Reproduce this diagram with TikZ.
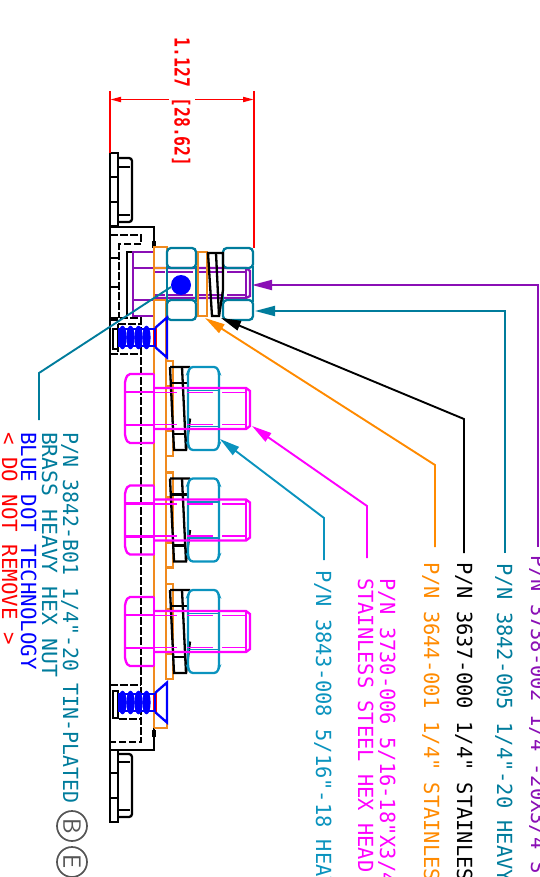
\documentclass[tikz,border=0pt]{standalone}
\usepackage{fontspec}
\newfontfamily\cad{DejaVu Sans Mono}
\usetikzlibrary{arrows.meta}
\definecolor{cred}{HTML}{FF0000}
\definecolor{cblue}{HTML}{0000FF}
\definecolor{cpurple}{HTML}{8A0FB5}
\definecolor{cmag}{HTML}{FF00FF}
\definecolor{corange}{HTML}{FF8A00}
\definecolor{cplate}{HTML}{F08A1E}
\definecolor{ctealA}{HTML}{007C9C}
\definecolor{ctealB}{HTML}{0A93BE}
\definecolor{cgrey}{HTML}{555555}
\tikzset{
  lab/.style={rotate=-90,anchor=base west,inner sep=0pt,outer sep=0pt,font=\cad\fontsize{20.8}{20.8}\selectfont},
  part/.style={line width=2.3pt,line join=miter},
  body/.style={part,black},
  hid/.style={line width=2pt,black,dash pattern=on 7.5pt off 2.5pt},
  leader/.style={line width=1.9pt},
  tipbig/.style={-{Triangle[length=20pt,width=10pt]}},
  nutseg/.style={part,rounded corners=4pt},
  dimtip/.style={{Triangle[length=11pt,width=5pt]}-},
  marker/.style={draw=cgrey,circle,line width=1.7pt,minimum size=30pt,inner sep=0pt,rotate=-90,font=\fontsize{25}{25}\selectfont\sffamily,text=cgrey},
}
\begin{document}
\begin{tikzpicture}[x=1pt,y=-1pt]
\useasboundingbox (0,0) rectangle (539,877);
\clip (0,0) rectangle (539,877);
% --- black frame
\draw[body] (110,153) rectangle (118,226);
\draw[body] (110,177) -- (118,177) (110,202) -- (118,202);
\draw[body] (118,158) -- (128,158) [rounded corners=3pt] -- (132,158) -- (132,222) -- (118,222);
\draw[body] (118,167) -- (130,167) (118,215) -- (130,215);
\draw[body] (110,226) -- (110,822) -- (118,822) -- (118,750);
\draw[body] (110,227) -- (154,227) -- (154,247);
\draw[body,line width=3.2pt] (154,241) -- (154,248);
\draw[body] (110,750) -- (154,750) -- (154,728);
\draw[body,line width=3.2pt] (154,730) -- (154,737);
\draw[body] (110,258) -- (118,258) (110,287) -- (118,287) (110,320) -- (118,320);
\draw[body] (110,773) -- (118,773) (110,798) -- (118,798);
\draw[body] (118,754) -- (128,754) [rounded corners=3pt] -- (132,754) -- (132,817) -- (118,817);
\draw[body] (118,762) -- (130,762) (118,810) -- (130,810);
\draw[body] (127,316) -- (127,252) -- (133,252);
\draw[body] (113,329) rectangle (118,349);
\draw[body] (113,691) rectangle (118,718);
% --- hidden lines
\draw[hid] (110,235) -- (141,235) -- (141,244) -- (119,244) -- (119,318);
\draw[hid] (110,318) -- (141,318) -- (141,742) -- (110,742);
\draw[hid] (118,324) -- (141,324) (118,324) -- (118,354) (110,354) -- (141,354);
\draw[hid] (110,685) -- (141,685) (118,690) -- (118,719) -- (141,719);
% --- top bolt (purple)
\draw[part,cpurple] (154,252) -- (133,252) -- (133,316) -- (154,316);
\draw[part,cpurple] (133,268) -- (154,268) (133,300) -- (154,300);
\draw[part,cpurple] (154,268) -- (246,268) -- (250,271) -- (250,296) -- (246,298) -- (154,298);
\draw[part,cpurple] (246,268) -- (246,298);
\foreach \yy in {272,295}{
  \draw[part,cpurple,line width=1.8pt] (155,\yy) -- (165,\yy) (168,\yy) -- (193,\yy) (198,\yy) -- (222,\yy) (227,\yy) -- (246,\yy);
}
% --- plate orange
\draw[part,cplate,line width=2.8pt] (154,247) -- (154,728);
\draw[part,cplate] (154,247) rectangle (167,300);
\draw[part,cplate] (154,268) -- (167,268);
\draw[part,cplate] (154,728) -- (167,728) -- (167,716);
\draw[part,cplate] (198,252) rectangle (207,316);
\draw[part,cplate,line width=1.6pt] (166,300) -- (166,361) (166,456) -- (166,473) (166,567) -- (166,583);
% --- top nuts
\foreach \xa/\xb in {167/196,223/253}{
  \draw[nutseg,ctealA] (\xa,248) rectangle (\xb,268);
  \draw[nutseg,ctealA] (\xa,300) rectangle (\xb,320);
  \draw[part,ctealA] (\xa,266) -- (\xa,302) (\xb,266) -- (\xb,302);
}
% --- top lock washer
\draw[body] (208,253) -- (223,253) -- (223,290) -- (219,316) -- (212,316) -- cycle;
\draw[body] (216,253) -- (219,316);
% --- blue dot
\fill[cblue] (181,285) circle (10);
% --- lower bolts
\foreach \c in {408.5,520,631.5}{
  % washer
  \draw[part,cplate] (166,\c-47.5) rectangle (173,\c+47.5);
  \draw[part,cplate] (166,\c-22.5) -- (173,\c-22.5) (166,\c+22.5) -- (173,\c+22.5);
  % lock washer
  \draw[body] (170,\c-41.5) -- (190,\c-41.5) (170,\c-41.5) -- (174,\c+41.5) -- (186,\c+41.5) -- (190,\c+10);
  \draw[body] (182,\c-41.5) -- (186,\c+41.5);
  \draw[body] (172,\c-25.5) -- (187,\c-25.5) (174,\c+25.5) -- (186,\c+25.5);
  % nut
  \draw[nutseg,ctealB,rounded corners=3pt] (190,\c-41.5) -- (217,\c-41.5) -- (219,\c-36) -- (219,\c+36) -- (217,\c+41.5) -- (190,\c+41.5) -- (188,\c+36) -- (188,\c-36) -- cycle;
  \draw[part,ctealB,line width=1.6pt] (189,\c-18) -- (218,\c-18) (189,\c+18) -- (218,\c+18);
  % bolt
  \draw[part,cmag,rounded corners=2pt] (154,\c-34.5) -- (128,\c-34.5) -- (125,\c-28) -- (125,\c+28) -- (128,\c+34.5) -- (154,\c+34.5);
  \draw[part,cmag] (154,\c-34.5) -- (154,\c+34.5);
  \draw[part,cmag] (125,\c-16.5) -- (154,\c-16.5) (125,\c+16.5) -- (154,\c+16.5);
  \draw[part,cmag] (154,\c-20.5) -- (246,\c-20.5) -- (250,\c-17.5) -- (250,\c+17.5) -- (246,\c+20.5) -- (154,\c+20.5);
  \draw[part,cmag] (246,\c-20.5) -- (246,\c+20.5);
  \foreach \d in {-16,16}{
    \draw[part,cmag,line width=1.8pt] (154,\c+\d) -- (177,\c+\d) (187,\c+\d) -- (213,\c+\d) (222,\c+\d) -- (246,\c+\d);
  }
}
% --- countersunk screws
\foreach \c in {337.5,702.5}{
  \draw[line width=3.5pt,cred] (155,\c-9.5) -- (155,\c+9.5);
  \draw[part,cblue] (155,\c-9.5) -- (167,\c-20) -- (167,\c+20) -- (155,\c+9.5);
  \draw[part,cblue] (119,\c-8.5) rectangle (155,\c+8.5);
  \foreach \xx in {122.5,130.5,138.5,146.5}{
    \draw[cblue,fill=cblue,line width=1pt] (\xx,\c) ellipse (3.6 and 11.3);
  }
}
% --- dimension
\coordinate (dimL) at (110,91);
\coordinate (dimLb) at (110,153);
\coordinate (dimR) at (254,91);
\coordinate (dimRb) at (254,248);
\draw[line width=2pt,cred] (dimL) -- (dimLb);
\draw[line width=2pt,cred] (dimR) -- (dimRb);
\coordinate (dimA) at (110,99.5);
\coordinate (dimB) at (169,99.5);
\coordinate (dimC) at (195,99.5);
\coordinate (dimD) at (254,99.5);
\draw[line width=1.8pt,cred,dimtip] (dimA) -- (dimB);
\draw[line width=1.8pt,cred,dimtip] (dimD) -- (dimC);
\node[lab,cred,xscale=.79,font=\cad\bfseries\fontsize{20.8}{20.8}\selectfont] (tdim) at (174.5,38) {1.127 [28.62]};
% --- labels
\node[lab,ctealA,xscale=.956] (tb1) at (63,432) {P/N 3842-B01 1/4"-20 TIN-PLATED};
\node[lab,ctealA,xscale=1.03] (tb2) at (42,432) {BRASS HEAVY HEX NUT};
\node[lab,cblue] (tb3) at (21,432) {BLUE DOT TECHNOLOGY};
\node[lab,cred] (tb4) at (2,432) {< DO NOT REMOVE >};
\node[marker] (cb) at (72,826) {B};
\node[marker] (ce) at (72,862) {E};
\node[lab,ctealB,xscale=.98] (t1) at (316,570) {P/N 3843-008 5/16"-18 HEAVY};
\node[lab,cmag,xscale=.98] (t2a) at (380,578) {P/N 3730-006 5/16-18"X3/4};
\node[lab,cmag,xscale=.98] (t2b) at (358,578) {STAINLESS STEEL HEX HEAD};
\node[lab,corange,xscale=.98] (t3) at (424,562) {P/N 3644-001 1/4" STAINLESS};
\node[lab,black,xscale=.98] (t4) at (457,562) {P/N 3637-000 1/4" STAINLESS};
\node[lab,ctealA,xscale=.98] (t5) at (497,563) {P/N 3842-005 1/4"-20 HEAVY};
\node[lab,cpurple,xscale=.98] (t6) at (531,555) {P/N 3738-002 1/4"-20X3/4  S};
% --- leaders
\coordinate (p1) at (538,547);
\coordinate (p1b) at (538,285);
\coordinate (p1t) at (252,285);
\draw[leader,cpurple,tipbig] (p1) -- (p1b) -- (p1t);
\coordinate (p2) at (505,553);
\coordinate (p2b) at (505,311);
\coordinate (p2t) at (255,311);
\draw[leader,ctealA,tipbig] (p2) -- (p2b) -- (p2t);
\coordinate (p3) at (464,553);
\coordinate (p3b) at (464,419);
\coordinate (p3t) at (221,318);
\draw[leader,black,tipbig] (p3) -- (p3b) -- (p3t);
\coordinate (p4) at (435,547);
\coordinate (p4b) at (435,465);
\coordinate (p4t) at (205,318);
\draw[leader,corange,tipbig] (p4) -- (p4b) -- (p4t);
\coordinate (p5) at (367,558);
\coordinate (p5b) at (367,506);
\coordinate (p5t) at (252,426);
\draw[leader,cmag,tipbig] (p5) -- (p5b) -- (p5t);
\coordinate (p6) at (324,560);
\coordinate (p6b) at (324,518);
\coordinate (p6t) at (220,439);
\draw[leader,ctealB,tipbig] (p6) -- (p6b) -- (p6t);
\coordinate (p7) at (39,420);
\coordinate (p7b) at (39,373);
\coordinate (p7t) at (171,287);
\draw[leader,ctealA] (p7) -- (p7b) -- (p7t);
\end{tikzpicture}
\end{document}
